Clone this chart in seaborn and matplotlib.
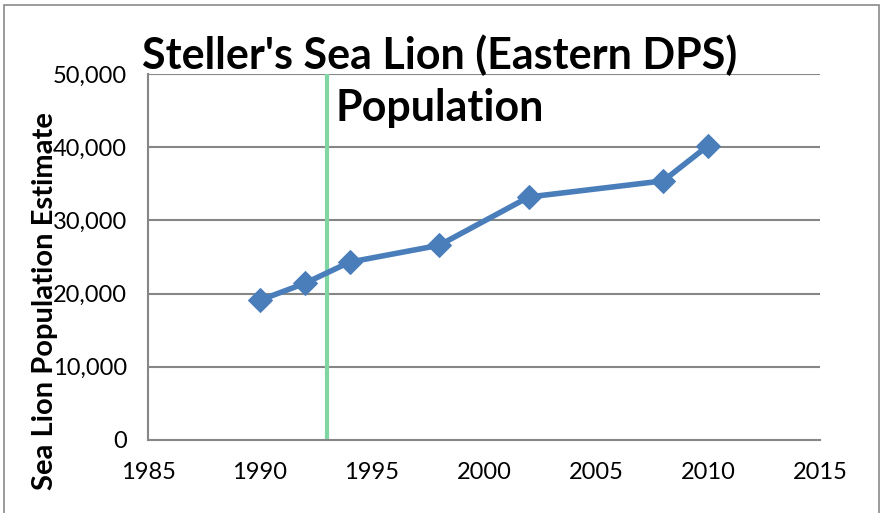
import pandas as pd
import matplotlib
matplotlib.use('Agg')
import matplotlib.pyplot as plt
import seaborn as sns
from matplotlib.patches import Rectangle

# data
years = [1990, 1992, 1994, 1998, 2002, 2008, 2010]
population = [19100, 21400, 24300, 26600, 33200, 35400, 40200]
marker_year = 1993
xticks = [1985, 1990, 1995, 2000, 2005, 2010, 2015]
yticks = [0, 10000, 20000, 30000, 40000, 50000]

df = pd.DataFrame({'Year': years, 'Population': population})

sns.set_style('white')
plt.rcParams['font.family'] = ['Lato', 'DejaVu Sans']
plt.rcParams['text.color'] = 'black'

fig = plt.figure(figsize=(8.82, 5.13), dpi=100)
ax = fig.add_axes([148/882, 1-440/513, 672/882, 366/513])

grid_col = '#868686'
for y in yticks[1:]:
    ax.axhline(y, color=grid_col, lw=1.5, zorder=0)

ax.axvline(marker_year, color='#7fd6a2', lw=3, zorder=1)

sns.lineplot(data=df, x='Year', y='Population', ax=ax, color='#4a7ebb',
             lw=4, marker='D', markersize=12, markeredgecolor='#4a7ebb', zorder=3)

ax.set_xlim(1985, 2015)
ax.set_ylim(0, 50000)
ax.set_xticks(xticks)
ax.set_yticks(yticks)
ax.set_yticklabels([f'{v:,}' for v in yticks])
ax.tick_params(axis='both', labelsize=17, colors=grid_col, labelcolor='black',
               direction='out', length=7, width=1.5, pad=8)
ax.tick_params(axis='x', pad=9)
for s in ['top', 'right']:
    ax.spines[s].set_visible(False)
for s in ['left', 'bottom']:
    ax.spines[s].set_color(grid_col)
    ax.spines[s].set_linewidth(1.5)
ax.set_xlabel('')
ax.set_ylabel('')

fig.text(0.499, 0.893, "Steller's Sea Lion (Eastern DPS)", ha='center', va='center',
         fontsize=31, fontweight='bold')
fig.text(0.499, 0.789, "Population", ha='center', va='center',
         fontsize=31, fontweight='bold')
fig.text(0.051, 0.413, 'Sea Lion Population Estimate', rotation=90, ha='center', va='center',
         fontsize=21, fontweight='bold')

fig.patches.append(Rectangle((4/882, -0.02), 875/882, 1.0 - 5/513 + 0.02, transform=fig.transFigure,
                             fill=False, edgecolor='#8a8a8a', lw=1.2))

fig.savefig('out.png', dpi=100)
